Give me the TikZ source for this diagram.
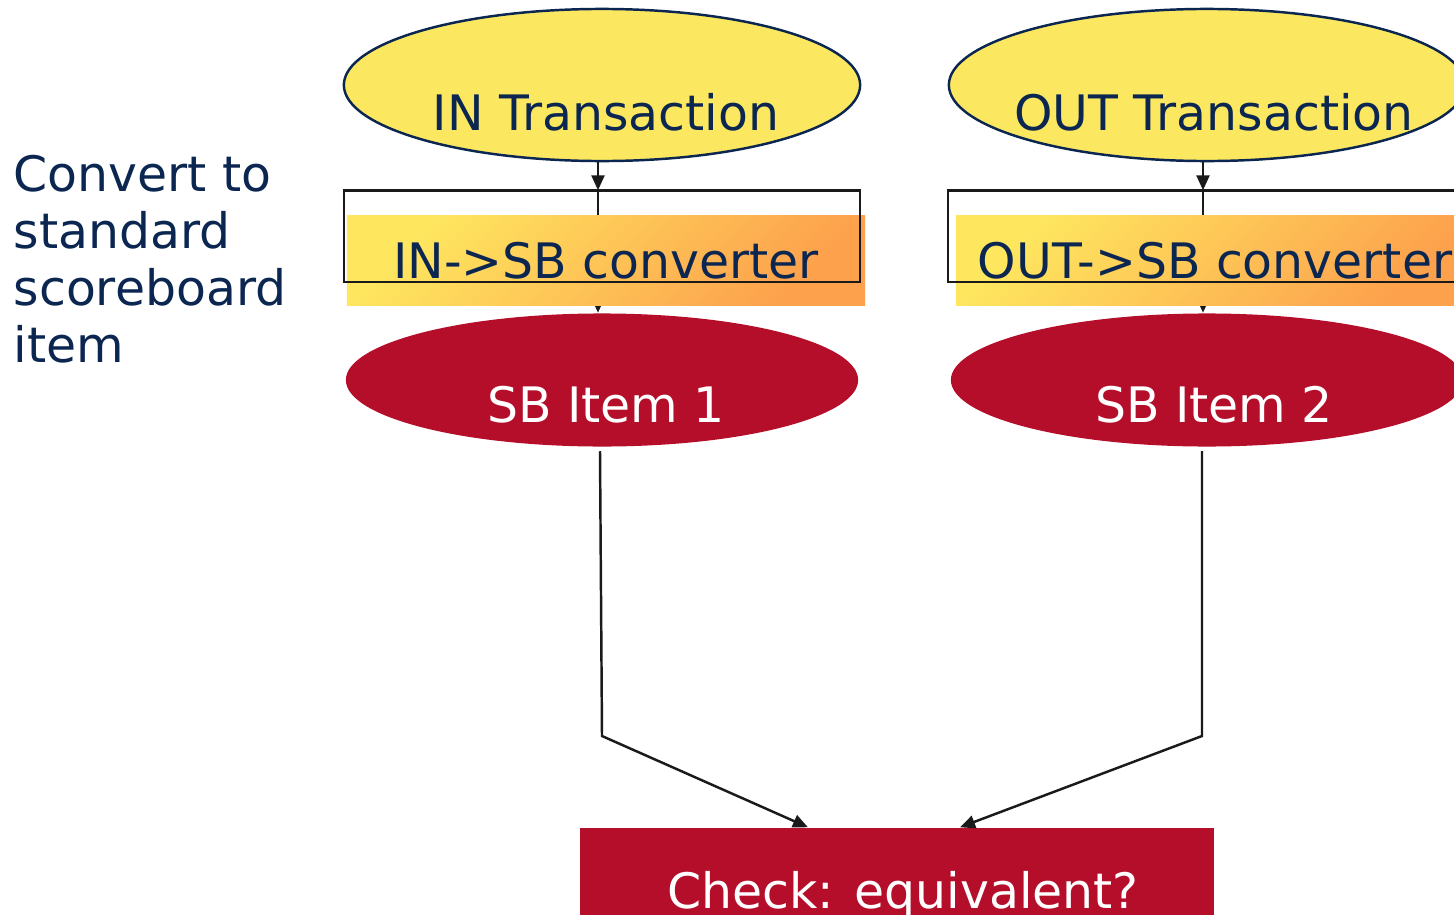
\documentclass[tikz,border=0pt]{standalone}
\usepackage{fontspec}
\setmainfont{DejaVu Sans}
\usetikzlibrary{shapes.geometric,arrows.meta}

\definecolor{navy}{HTML}{0B2650}
\definecolor{txyellow}{HTML}{FCE860}
\definecolor{crimson}{HTML}{B50E2A}
\definecolor{gradA}{HTML}{FEE65F}
\definecolor{gradB}{HTML}{FDA14D}
\definecolor{ink}{HTML}{1A1A1A}

\tikzset{
  txt/.style={font=\fontsize{13.9}{16.2}\selectfont, inner sep=0pt},
  trans/.style={ellipse, draw=navy, line width=0.7pt, fill=txyellow,
    minimum width=5.16cm, minimum height=1.52cm, inner sep=0pt},
  sbitem/.style={ellipse, fill=crimson, minimum width=5.12cm,
    minimum height=1.33cm, inner sep=0pt},
  convbar/.style={rectangle, inner sep=0pt, minimum width=5.18cm,
    minimum height=0.89cm, left color=gradA, right color=gradB,
    shading angle=45, txt, text=navy},
  convframe/.style={rectangle, inner sep=0pt, minimum width=5.14cm,
    minimum height=0.90cm},
  framepen/.style={draw=ink, line width=0.7pt},
  darklabel/.style={txt, text=navy, anchor=base},
  lightlabel/.style={txt, text=white, anchor=base},
  wire/.style={draw=ink, line width=0.7pt},
  conn/.style={wire, -{Triangle[length=0.15cm,width=0.13cm]}},
}

\begin{document}
\begin{tikzpicture}[x=0.01cm, y=-0.01cm]
\useasboundingbox (0,0) rectangle (1454,915);
\clip (0,0) rectangle (1454,915);

% side note
\node[txt, text=navy, align=left, anchor=north west] (note) at (13,155)
  {Convert to\\standard\\scoreboard\\item};

% transaction sources
\node[trans] (in) at (602,85) {};
\node[darklabel] (inT) at (606,130) {IN Transaction};
\node[trans] (out) at (1207,85) {};
\node[darklabel] (outT) at (1214,130) {OUT Transaction};

% converter frames (outline drawn later, on top of the bars)
\node[convframe] (fr1) at (602,236) {};
\node[convframe] (fr2) at (1206,236) {};

% scoreboard items
\node[sbitem] (sb1) at (602,380) {};
\node[lightlabel] (sb1T) at (606,422) {SB Item 1};
\node[sbitem] (sb2) at (1207,380) {};
\node[lightlabel] (sb2T) at (1214,422) {SB Item 2};

% checker
\node[rectangle, fill=crimson, inner sep=0pt, minimum width=6.34cm,
  minimum height=1.4cm] (check) at (897,898) {};
\node[lightlabel] (checkT) at (903,908) {Check: equivalent?};

% source -> converter -> item
\draw[conn] ([xshift=-0.04cm]in.south) -- ([xshift=-0.04cm]fr1.north);
\draw[wire] ([xshift=-0.04cm]fr1.north) -- ([xshift=-0.04cm]fr1.south);
\draw[conn] ([xshift=-0.04cm]fr1.south) -- ([xshift=-0.04cm]sb1.north);
\draw[conn] ([xshift=-0.04cm]out.south) -- ([xshift=-0.03cm]fr2.north);
\draw[wire] ([xshift=-0.03cm]fr2.north) -- ([xshift=-0.03cm]fr2.south);
\draw[conn] ([xshift=-0.03cm]fr2.south) -- ([xshift=-0.04cm]sb2.north);

% converter bars with their labels
\node[convbar] (cv1) at (606,260.5) {IN->SB converter};
\node[convbar] (cv2) at (1215,260.5) {OUT->SB converter};

% converter outlines
\draw[framepen] (fr1.south west) rectangle (fr1.north east);
\draw[framepen] (fr2.south west) rectangle (fr2.north east);

% items -> checker
\coordinate (k1) at (602,736);
\coordinate (k2) at (1202,736);
\draw[conn] ([xshift=-0.02cm,yshift=-0.04cm]sb1.south) -- (k1)
  -- ([xshift=-0.89cm]check.north);
\draw[conn] ([xshift=-0.05cm,yshift=-0.04cm]sb2.south) -- (k2)
  -- ([xshift=0.63cm]check.north);
\end{tikzpicture}
\end{document}
